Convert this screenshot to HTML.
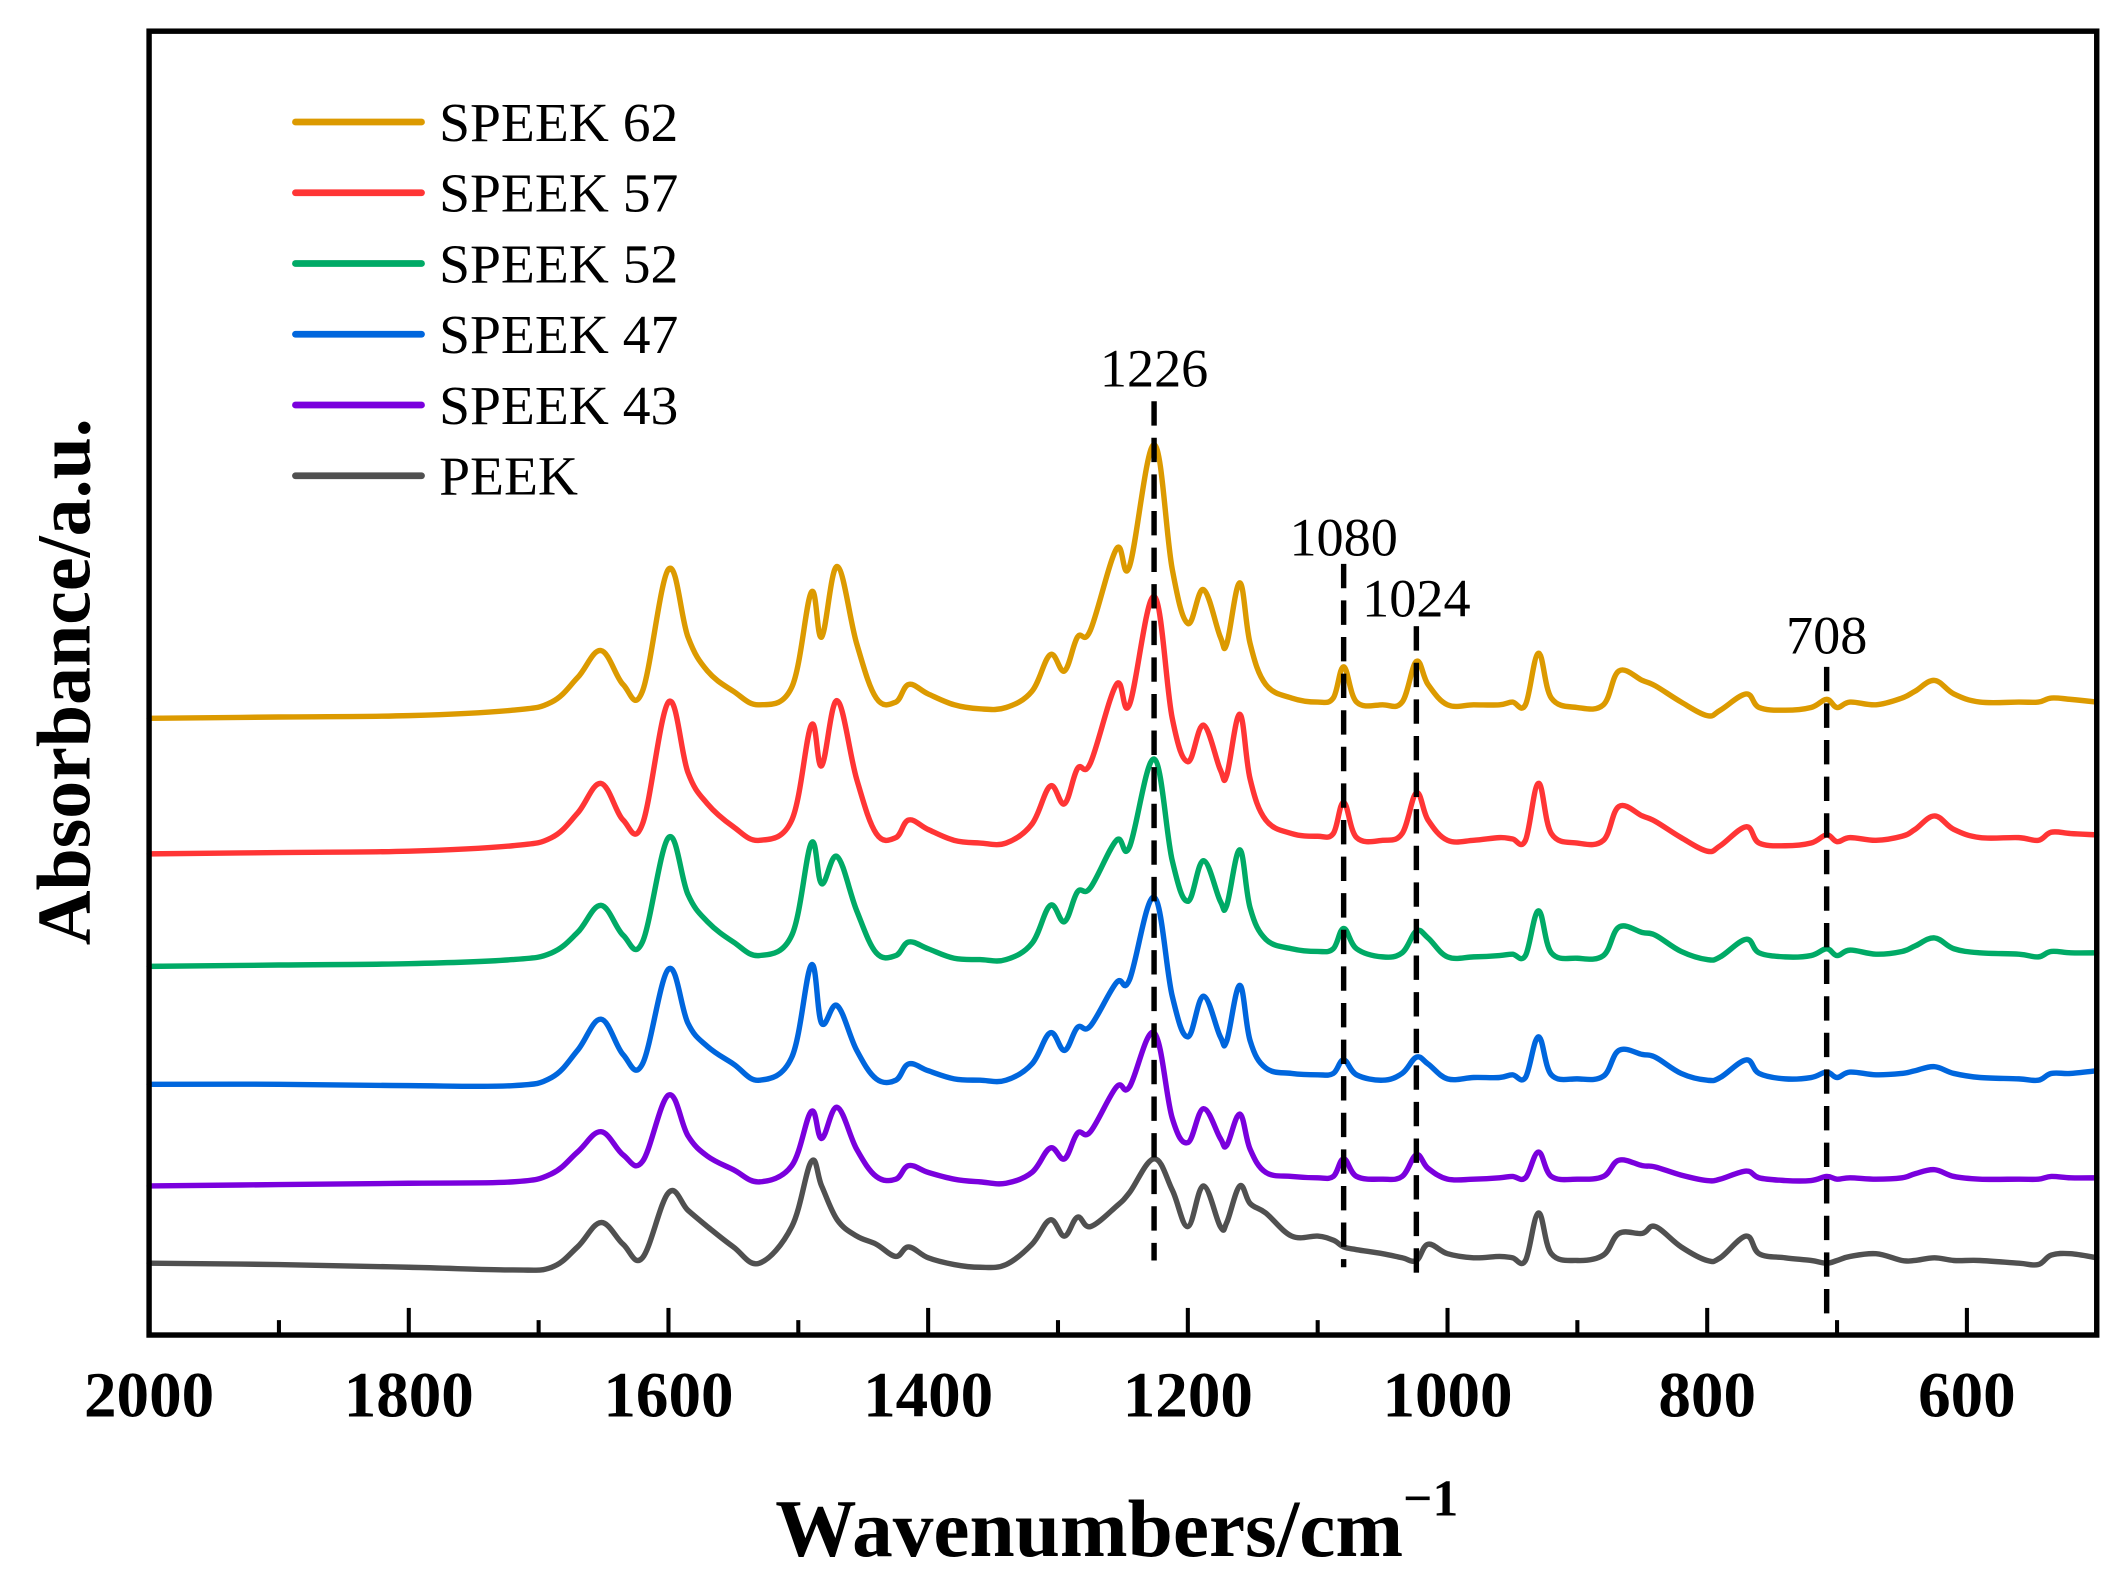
<!DOCTYPE html>
<html>
<head>
<meta charset="utf-8">
<style>
html,body{margin:0;padding:0;background:#fff;}
svg{display:block;}
text{font-family:"Liberation Serif","Times New Roman",serif;fill:#000;}
</style>
</head>
<body>
<svg id="chart" width="2113" height="1579" viewBox="0 0 1559 1165" xmlns="http://www.w3.org/2000/svg">
  <rect x="0" y="0" width="1559" height="1165" fill="#fff"/>
  <g id="series"></g>
  <g id="markers"></g>
  <rect x="110" y="23" width="1437" height="962" fill="none" stroke="#000" stroke-width="4"/>
  <g id="xticks"></g>
  <text x="572" y="1148" font-size="60" font-weight="bold">Wavenumbers/cm<tspan dy="-30" font-size="38">−1</tspan></text>
  <text transform="translate(66,503) rotate(-90)" text-anchor="middle" font-size="56" font-weight="bold">Absorbance/a.u.</text>
  <g id="legend"></g>
</svg>
<script>
// Wavenumbers (cm^-1) sampled along each spectrum
const wavenumbers = [2000,1900,1800,1720,1690,1670,1652,1635,1620,1600,1585,1570,1550,1530,1505,1490,1482,1470,1455,1440,1425,1415,1400,1380,1360,1340,1320,1306,1295,1285,1275,1255,1245,1226,1212,1200,1188,1175,1170,1160,1152,1140,1120,1100,1088,1080,1070,1050,1035,1024,1015,1000,980,960,950,940,930,920,900,880,868,850,840,820,800,790,770,760,740,720,708,700,690,670,650,640,625,610,590,560,545,535,520,500];
// Absorbance values (inverted display units; smaller = higher on chart)
const speek62 = [530,529,528,524,518,500,480,505,510,420,470,495,510,520,507,437,470,418,475,515,518,505,512,520,523,522,510,483,495,470,465,405,418,328,420,460,435,470,475,430,475,505,515,518,515,492,518,520,518,488,505,520,520,520,518,520,482,515,522,520,495,502,506,518,528,524,512,522,524,522,516,522,518,520,515,510,502,512,518,518,518,515,516,518];
const speek57 = [630,629,628,624,618,600,578,605,608,518,570,593,610,620,605,535,565,517,575,615,618,605,612,620,622,622,608,580,593,567,563,505,520,440,530,562,535,568,572,527,575,605,615,617,615,592,618,620,615,585,605,620,620,618,619,620,578,615,622,620,595,602,606,618,628,624,610,622,624,622,616,621,618,620,617,612,602,612,618,618,620,614,615,616];
const speek52 = [713,712,711,708,703,688,668,690,695,618,660,680,695,705,690,622,652,632,672,703,705,695,700,707,708,708,696,668,680,658,655,620,625,560,635,665,635,665,668,627,670,693,700,702,700,685,700,706,703,687,692,706,706,705,704,705,672,703,707,705,684,688,690,702,708,706,693,703,706,705,700,705,701,704,702,698,692,700,703,704,706,702,703,703];
const speek47 = [800,800,801,801,795,775,752,778,785,715,755,772,785,797,780,712,755,742,775,796,797,785,790,796,797,797,785,762,775,758,757,725,723,662,735,765,735,765,768,727,768,788,792,793,792,782,793,797,792,780,785,796,795,795,793,795,765,793,796,794,775,778,780,792,797,795,782,792,796,795,791,795,791,793,792,790,787,792,795,796,797,792,792,790];
const speek43 = [875,874,873,872,866,850,835,852,857,808,838,853,863,872,860,820,840,817,848,868,870,860,865,870,872,873,865,847,855,836,835,802,802,762,825,843,818,840,845,822,848,865,868,869,868,855,868,870,868,852,862,870,870,869,868,869,850,868,870,868,856,860,861,867,871,870,864,869,871,871,868,870,869,870,869,866,863,868,870,870,870,868,869,869];
const peek = [932,933,935,937,935,920,902,918,928,880,893,905,920,932,905,857,875,900,912,918,927,920,928,933,935,933,918,900,912,898,905,890,880,855,878,905,875,905,902,875,888,895,912,912,915,920,922,925,928,930,918,925,928,927,928,930,895,925,930,926,910,910,905,920,930,928,912,925,928,930,932,930,927,925,930,930,928,930,930,932,933,926,925,928];
const seriesNames = ["SPEEK 62","SPEEK 57","SPEEK 52","SPEEK 47","SPEEK 43","PEEK"];
const seriesColors = ["#DC9A00","#FF3535","#00AA66","#0066DD","#7A00DD","#505050"];
const xTickValues = [2000,1800,1600,1400,1200,1000,800,600];
const xTickLabels = ["2000","1800","1600","1400","1200","1000","800","600"];
const xMinorTicks = [1900,1700,1500,1300,1100,900,700];
const peakPositions = [1226,1080,1024,708];
const peakLabels = ["1226","1080","1024","708"];

const allSeries = [speek62,speek57,speek52,speek47,speek43,peek];
const NS = "http://www.w3.org/2000/svg";
const X0 = 110, X1 = 1547, Y0 = 23, Y1 = 985;
function xScale(w){ return X0 + (2000 - w) / (2000 - 500) * (X1 - X0); }
function yScale(v){ return Y0 + (v - Y0) / (Y1 - Y0) * (Y1 - Y0); }
function mk(tag, attrs){ const e = document.createElementNS(NS, tag); for (const k in attrs) e.setAttribute(k, attrs[k]); return e; }

function smoothPath(pts){
  let d = "M" + pts[0][0].toFixed(1) + "," + pts[0][1].toFixed(1);
  for (let i = 0; i < pts.length - 1; i++){
    const p0 = pts[i-1] || pts[i], p1 = pts[i], p2 = pts[i+1], p3 = pts[i+2] || p2;
    const t = 0.18;
    const c1x = p1[0] + (p2[0]-p0[0])*t, c1y = p1[1] + (p2[1]-p0[1])*t;
    const c2x = p2[0] - (p3[0]-p1[0])*t, c2y = p2[1] - (p3[1]-p1[1])*t;
    d += " C" + c1x.toFixed(1)+","+c1y.toFixed(1)+" "+c2x.toFixed(1)+","+c2y.toFixed(1)+" "+p2[0].toFixed(1)+","+p2[1].toFixed(1);
  }
  return d;
}

const gS = document.getElementById("series");
for (let s = allSeries.length - 1; s >= 0; s--){
  const pts = wavenumbers.map((w,i) => [xScale(w), yScale(allSeries[s][i])]);
  const p = mk("path", {d: smoothPath(pts), fill: "none", stroke: seriesColors[s], "stroke-width": 4, "stroke-linejoin": "round", "stroke-linecap": "round"});
  
  
  gS.appendChild(p);
}

const gM = document.getElementById("markers");
const markerTop = [296, 416, 462, 492];
const markerBottom = [930, 935, 940, 975];
const labelY = [285, 410, 455, 482];
for (let i = 0; i < peakPositions.length; i++){
  const x = xScale(peakPositions[i]);
  const l = mk("line", {x1: x, x2: x, y1: markerTop[i], y2: markerBottom[i], stroke: "#000", "stroke-width": 4, "stroke-dasharray": "18 9"});
  
  
  gM.appendChild(l);
  const t = mk("text", {x: x, y: labelY[i], "text-anchor": "middle", "font-size": 40});
  t.textContent = peakLabels[i];
  
  
  gM.appendChild(t);
}

const gX = document.getElementById("xticks");
for (let i = 0; i < xTickValues.length; i++){
  const x = xScale(xTickValues[i]);
  const l = mk("line", {x1: x, x2: x, y1: Y1, y2: Y1 - 20, stroke: "#000", "stroke-width": 3});
  
  
  gX.appendChild(l);
  const t = mk("text", {x: x, y: 1045, "text-anchor": "middle", "font-size": 48, "font-weight": "bold"});
  t.textContent = xTickLabels[i];
  
  
  gX.appendChild(t);
}
for (let i = 0; i < xMinorTicks.length; i++){
  const x = xScale(xMinorTicks[i]);
  const l = mk("line", {x1: x, x2: x, y1: Y1, y2: Y1 - 11, stroke: "#000", "stroke-width": 3});
  
  
  gX.appendChild(l);
}

const gL = document.getElementById("legend");
for (let i = 0; i < seriesNames.length; i++){
  const y = 90 + i * 52.2;
  const l = mk("line", {x1: 218, x2: 311, y1: y, y2: y, stroke: seriesColors[i], "stroke-width": 5, "stroke-linecap": "round"});
  
  
  gL.appendChild(l);
  const t = mk("text", {x: 324, y: y + 14, "font-size": 41});
  t.textContent = seriesNames[i];
  
  
  gL.appendChild(t);
}
</script>
</body>
</html>
